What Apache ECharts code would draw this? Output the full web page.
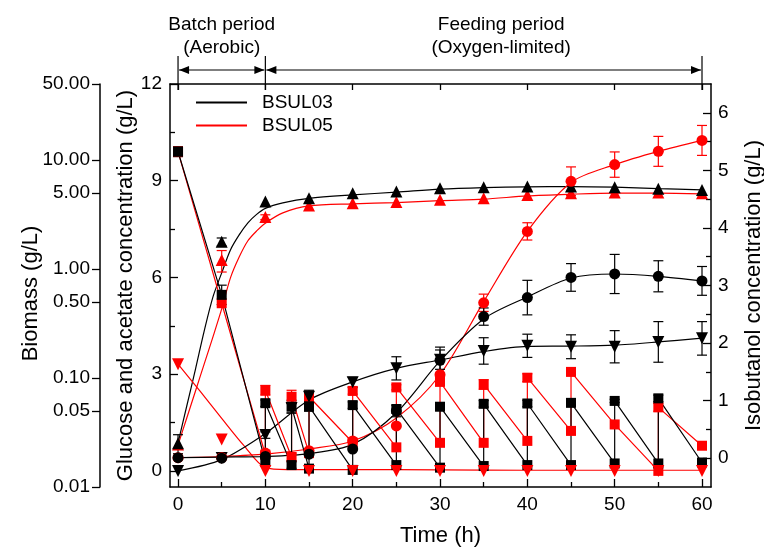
<!DOCTYPE html>
<html><head><meta charset="utf-8">
<script src="https://cdn.jsdelivr.net/npm/echarts@6/dist/echarts.min.js"></script>
<style>html,body{margin:0;padding:0;background:#fff}#c{width:764px;height:552px}</style>
</head><body><div id="c"></div>
<script>
const FONT = '"Liberation Sans", Arial, Helvetica, sans-serif';
const BLACK = '#000000', RED = '#ff0000';

// ---- axis ticks ----
const xMajorTicks = [0, 10, 20, 30, 40, 50, 60];
const xMinorTicks = [5, 15, 25, 35, 45, 55];
const glucoseTicks = [0, 3, 6, 9, 12];
const glucoseMinorTicks = [1.5, 4.5, 7.5, 10.5];
const biomassTicks = [0.01, 0.05, 0.10, 0.50, 1.00, 5.00, 10.00, 50.00];
const isoTicks = [0, 1, 2, 3, 4, 5, 6];
const isoMinorTicks = [0.5, 1.5, 2.5, 3.5, 4.5, 5.5];

// ---- periods (annotation) ----
const periodBounds = [0, 10, 60];
const periodLabels = [['Batch period', '(Aerobic)'], ['Feeding period', '(Oxygen-limited)']];
const periodLabelTimes = [5, 37];

// ---- sampling times ----
const sampleTimes = [0, 5, 10, 15, 20, 25, 30, 35, 40, 45, 50, 55, 60];

// ---- glucose (sawtooth, feeding) ----
const glcTimes03 = [0, 5, 10, 10, 13, 13, 15, 15, 20, 20, 25, 25, 30, 30, 35, 35, 40, 40, 45, 45, 50, 50, 55, 55, 60];
const glc03 = [9.9, 5.46, 0.28, 2.1, 0.18, 1.99, 0.07, 2.0, 0.03, 2.04, 0.18, 1.92, 0.1, 1.99, 0.15, 2.08, 0.18, 2.09, 0.18, 2.11, 0.23, 2.17, 0.23, 2.25, 0.26];
const glcErr03 = [0.15, 0.3, null, 0.1, 0.1, 0.2, null, 0.15, null, 0.1, null, null, null, null, null, 0.1, null, 0.1, null, null, null, 0.05, null, 0.1, null];
const glcTimes05 = [0, 5, 10, 10, 13, 13, 15, 15, 20, 20, 25, 25, 30, 30, 35, 35, 40, 40, 45, 45, 50, 55, 55, 60];
const glc05 = [9.9, 5.2, 0.5, 2.5, 0.43, 2.3, 0.55, 2.3, 0.88, 2.48, 0.73, 2.59, 0.87, 2.76, 0.87, 2.68, 0.93, 2.89, 1.24, 3.07, 1.44, 0.0, 1.97, 0.78];
const glcErr05 = [0.15, null, null, 0.15, 0.12, 0.2, null, 0.1, null, 0.1, null, 0.08, null, null, null, 0.15, null, 0.12, null, null, null, null, 0.12, null];

// ---- acetate ----
const aceTimes03 = [0, 5, 10, 13, 15, 20, 25, 30, 35, 40, 45, 50, 55, 60];
const ace03 = [0.0, 0.4, 1.11, 1.95, 2.3, 2.75, 3.18, 3.45, 3.72, 3.88, 3.85, 3.85, 4.0, 4.11];
const aceErr03 = [null, null, 0.1, 0.15, 0.2, 0.15, 0.36, 0.3, 0.41, 0.36, 0.37, 0.5, 0.63, 0.52];
const ace05 = [3.31, 0.97, 0.0, 0.0, 0.0, 0.0, 0.0, 0.0, 0.0, 0.0, 0.0, 0.0, 0.0];
const aceFitTimes03 = [0, 5, 10, 15, 20, 25, 30, 35, 40, 45, 50, 55, 60];
const aceFit03 = [0.0, 0.35, 1.16, 2.2, 2.76, 3.18, 3.44, 3.7, 3.86, 3.87, 3.9, 4.0, 4.12];
const aceFitTimes05 = [0, 2.5, 5, 7.5, 10, 12.5, 15, 20, 30, 40, 50, 60];
const aceFit05 = [3.31, 2.48, 1.63, 0.8, 0.1, 0.04, 0.04, 0.04, 0.03, 0.02, 0.02, 0.02];

// ---- biomass ----
const bio03 = [0.0252, 1.78, 4.17, 4.48, 4.98, 5.15, 5.53, 5.65, 5.72, 5.72, 5.65, 5.45, 5.33];
const bioErr03 = [0.005, 0.15, null, null, null, null, null, null, null, null, null, null, null];
const bio05 = [0.0245, 1.21, 3.0, 3.83, 4.03, 4.12, 4.32, 4.48, 4.80, 4.98, 5.04, 5.04, 4.98];
const bioErr05 = [null, 0.27, 0.15, null, null, null, null, null, null, null, null, null, null];
const bioFitTimes = [0, 1, 2, 3, 4, 5, 6, 7, 8, 9, 10, 12, 15, 20, 25, 30, 35, 40, 45, 50, 55, 60];
const bioFit03 = [0.0254, 0.0554, 0.121, 0.271, 0.556, 0.923, 1.50, 2.06, 2.66, 3.18, 3.61, 4.05, 4.46, 4.80, 5.08, 5.42, 5.60, 5.69, 5.72, 5.65, 5.48, 5.34];
const bioFit05 = [0.0243, 0.0430, 0.0761, 0.135, 0.239, 0.431, 0.830, 1.29, 1.82, 2.24, 2.64, 3.28, 3.80, 3.97, 4.08, 4.26, 4.38, 4.70, 4.87, 4.98, 4.98, 4.91];

// ---- isobutanol ----
const iso03 = [0.01, 0.0, 0.03, 0.07, 0.16, 0.82, 1.70, 2.46, 2.79, 3.14, 3.2, 3.16, 3.08];
const isoErr03 = [null, null, null, null, null, 0.1, 0.23, 0.15, 0.3, 0.24, 0.34, 0.27, 0.25];
const iso05 = [0.01, 0.01, 0.09, 0.13, 0.30, 0.56, 1.45, 2.70, 3.94, 4.81, 5.10, 5.33, 5.52];
const isoErr05 = [null, null, null, null, null, null, null, 0.15, 0.15, 0.25, 0.22, 0.26, 0.26];
const isoFit03 = [0.01, 0.02, 0.03, 0.08, 0.24, 0.79, 1.69, 2.42, 2.8, 3.13, 3.2, 3.16, 3.08];
const isoFit05 = [0.01, 0.03, 0.07, 0.16, 0.3, 0.7, 1.45, 2.72, 3.94, 4.79, 5.1, 5.33, 5.52];

// ---- helpers ----
const pairs = (ts, vs) => ts.map((t, i) => [t, vs[i]]);
const errData = (ts, vs, es) => {
  const out = [];
  ts.forEach((t, i) => { if (es[i] != null) out.push([t, vs[i] - es[i], vs[i] + es[i]]); });
  return out;
};
const Y_GLC = 0, Y_BIO = 2, Y_ISO = 4;

function errSeries(name, data, yAxisIndex, color) {
  return {
    type: 'custom', name, xAxisIndex: 0, yAxisIndex, z: 3, silent: true,
    encode: { x: 0, y: [1, 2] },
    data,
    renderItem: (params, api) => {
      const x = api.value(0);
      const p1 = api.coord([x, api.value(1)]);
      const p2 = api.coord([x, api.value(2)]);
      const w = 5;
      const st = { stroke: color, lineWidth: 1.2 };
      return {
        type: 'group', children: [
          { type: 'line', shape: { x1: p1[0], y1: p1[1], x2: p2[0], y2: p2[1] }, style: st },
          { type: 'line', shape: { x1: p1[0] - w, y1: p1[1], x2: p1[0] + w, y2: p1[1] }, style: st },
          { type: 'line', shape: { x1: p2[0] - w, y1: p2[1], x2: p2[0] + w, y2: p2[1] }, style: st }
        ]
      };
    }
  };
}
function fitSeries(name, ts, vs, yAxisIndex, color) {
  return {
    type: 'line', name, yAxisIndex, data: pairs(ts, vs), smooth: 0.3,
    showSymbol: false, symbol: 'none', z: 2, silent: true,
    lineStyle: { color, width: 1.2 }
  };
}
function markSeries(name, ts, vs, yAxisIndex, color, symbol, size, rotate) {
  return {
    type: 'scatter', name, yAxisIndex, data: pairs(ts, vs), symbol, symbolSize: size,
    symbolRotate: rotate || 0, z: 5, silent: true,
    itemStyle: { color, opacity: 1 }
  };
}
function sawSeries(name, ts, vs, color) {
  return {
    type: 'line', name, yAxisIndex: Y_GLC, data: pairs(ts, vs), symbol: 'rect', symbolSize: 10,
    showSymbol: true, showAllSymbol: true, z: 4, silent: true,
    lineStyle: { color, width: 1.2 }, itemStyle: { color }
  };
}

const axisLineStyle = { show: true, onZero: false, lineStyle: { color: BLACK, width: 1.5 } };
const noLine = { show: false, onZero: false };
const tickStyle = { color: BLACK, width: 1.3 };
const labelStyle = { color: BLACK, fontSize: 19, fontFamily: FONT };
const nameStyle = { color: BLACK, fontSize: 22, fontFamily: FONT };

const option = {
  animation: false,
  backgroundColor: '#ffffff',
  textStyle: { fontFamily: FONT },
  grid: { left: 170, right: 53, top: 84, bottom: 65, containLabel: false, outerBoundsMode: 'none' },
  legend: {
    data: ['BSUL03', 'BSUL05'], left: 191, top: 88, orient: 'vertical',
    itemWidth: 51, itemHeight: 2, itemGap: 4, icon: 'rect',
    textStyle: { fontSize: 19, color: BLACK, fontFamily: FONT, padding: [0, 0, 0, 10] }
  },
  xAxis: [
    {
      type: 'value', position: 'bottom', min: -0.92, max: 61.03,
      axisLine: axisLineStyle,
      axisTick: { show: true, inside: true, length: 8, lineStyle: tickStyle, customValues: xMajorTicks },
      axisLabel: { ...labelStyle, margin: 8, customValues: xMajorTicks },
      splitLine: { show: false },
      name: 'Time (h)', nameLocation: 'middle', nameGap: 38, nameTextStyle: nameStyle, nameMoveOverlap: false
    },
    {
      type: 'value', position: 'bottom', min: -0.92, max: 61.03,
      axisLine: noLine,
      axisTick: { show: true, inside: true, length: 5, lineStyle: tickStyle, customValues: xMinorTicks },
      axisLabel: { show: false }, splitLine: { show: false }
    },
    {
      type: 'value', position: 'top', min: -0.92, max: 61.03,
      axisLine: axisLineStyle,
      axisTick: { show: true, inside: true, length: 6, lineStyle: tickStyle, customValues: xMajorTicks },
      axisLabel: { show: false }, splitLine: { show: false }
    }
  ],
  yAxis: [
    {
      type: 'value', position: 'left', min: -0.5, max: 12,
      axisLine: axisLineStyle,
      axisTick: { show: true, inside: true, length: 8, lineStyle: tickStyle, customValues: glucoseTicks },
      axisLabel: { ...labelStyle, margin: 8, customValues: glucoseTicks },
      splitLine: { show: false },
      name: 'Glucose and acetate concentration (g/L)', nameLocation: 'middle', nameRotate: 90,
      nameGap: 33, nameTextStyle: nameStyle, nameMoveOverlap: false
    },
    {
      type: 'value', position: 'left', min: -0.5, max: 12,
      axisLine: noLine,
      axisTick: { show: true, inside: true, length: 5, lineStyle: tickStyle, customValues: glucoseMinorTicks },
      axisLabel: { show: false }, splitLine: { show: false }
    },
    {
      type: 'log', logBase: 10, position: 'left', offset: 70,
      min: biomassTicks[0], max: biomassTicks[biomassTicks.length - 1],
      show: false, axisLine: noLine, splitLine: { show: false }
    },
    {
      type: 'value', position: 'left', offset: 70,
      min: Math.log10(biomassTicks[0]), max: Math.log10(biomassTicks[biomassTicks.length - 1]),
      axisLine: axisLineStyle,
      axisTick: { show: true, inside: false, length: 8, lineStyle: tickStyle, customValues: biomassTicks.map(v => Math.log10(v)) },
      axisLabel: {
        ...labelStyle, margin: 10, customValues: biomassTicks.map(v => Math.log10(v)),
        formatter: v => Math.pow(10, v).toFixed(2)
      },
      splitLine: { show: false },
      name: 'Biomass (g/L)', nameLocation: 'middle', nameRotate: 90, nameGap: 58,
      nameTextStyle: { ...nameStyle, padding: [0, 16, 0, 0] }, nameMoveOverlap: false
    },
    {
      type: 'value', position: 'right', min: -0.5, max: 6.5,
      axisLine: axisLineStyle,
      axisTick: { show: true, inside: true, length: 8, lineStyle: tickStyle, customValues: isoTicks },
      axisLabel: { ...labelStyle, margin: 7, customValues: isoTicks },
      splitLine: { show: false },
      name: 'Isobutanol concentration (g/L)', nameLocation: 'middle', nameRotate: 90,
      nameGap: 32, nameTextStyle: nameStyle, nameMoveOverlap: false
    },
    {
      type: 'value', position: 'right', min: -0.5, max: 6.5,
      axisLine: noLine,
      axisTick: { show: true, inside: true, length: 5, lineStyle: tickStyle, customValues: isoMinorTicks },
      axisLabel: { show: false }, splitLine: { show: false }
    }
  ],
  series: [
    { name: 'BSUL03', type: 'line', data: [], yAxisIndex: Y_GLC, lineStyle: { color: BLACK }, itemStyle: { color: BLACK } },
    { name: 'BSUL05', type: 'line', data: [], yAxisIndex: Y_GLC, lineStyle: { color: RED }, itemStyle: { color: RED } },
    // fitted curves
    fitSeries('bioFit05', bioFitTimes, bioFit05, Y_BIO, RED),
    fitSeries('bioFit03', bioFitTimes, bioFit03, Y_BIO, BLACK),
    fitSeries('aceFit05', aceFitTimes05, aceFit05, Y_GLC, RED),
    fitSeries('aceFit03', aceFitTimes03, aceFit03, Y_GLC, BLACK),
    fitSeries('isoFit05', sampleTimes, isoFit05, Y_ISO, RED),
    fitSeries('isoFit03', sampleTimes, isoFit03, Y_ISO, BLACK),
    // error bars
    errSeries('glcErr05', errData(glcTimes05, glc05, glcErr05), Y_GLC, RED),
    errSeries('glcErr03', errData(glcTimes03, glc03, glcErr03), Y_GLC, BLACK),
    errSeries('bioErr05', errData(sampleTimes, bio05, bioErr05), Y_BIO, RED),
    errSeries('bioErr03', errData(sampleTimes, bio03, bioErr03), Y_BIO, BLACK),
    errSeries('aceErr03', errData(aceTimes03, ace03, aceErr03), Y_GLC, BLACK),
    errSeries('isoErr05', errData(sampleTimes, iso05, isoErr05), Y_ISO, RED),
    errSeries('isoErr03', errData(sampleTimes, iso03, isoErr03), Y_ISO, BLACK),
    // glucose sawtooth
    sawSeries('glc05', glcTimes05, glc05, RED),
    sawSeries('glc03', glcTimes03, glc03, BLACK),
    // markers
    markSeries('ace05', sampleTimes, ace05, Y_GLC, RED, 'triangle', 12, 180),
    markSeries('ace03', aceTimes03, ace03, Y_GLC, BLACK, 'triangle', 12, 180),
    markSeries('bio05', sampleTimes, bio05, Y_BIO, RED, 'triangle', 12, 0),
    markSeries('bio03', sampleTimes, bio03, Y_BIO, BLACK, 'triangle', 12, 0),
    markSeries('iso05', sampleTimes, iso05, Y_ISO, RED, 'circle', 11, 0),
    markSeries('iso03', sampleTimes, iso03, Y_ISO, BLACK, 'circle', 11, 0)
  ]
};

const chart = echarts.init(document.getElementById('c'), null, { renderer: 'canvas' });
chart.setOption(option);

// period annotation above the plot
const xb = periodBounds.map(t => chart.convertToPixel({ xAxisIndex: 0 }, t));
const lineY = 70, topY = 56, botY = 90;
const st = { stroke: BLACK, lineWidth: 1.2 };
const g = [];
xb.forEach(x => g.push({ type: 'line', shape: { x1: x, y1: topY, x2: x, y2: botY }, style: st }));
for (let i = 0; i < xb.length - 1; i++) {
  const a = xb[i] + 1, b = xb[i + 1] - 1;
  g.push({ type: 'line', shape: { x1: a, y1: lineY, x2: b, y2: lineY }, style: st });
  g.push({ type: 'polygon', shape: { points: [[a, lineY], [a + 10, lineY - 4], [a + 10, lineY + 4]] }, style: { fill: BLACK } });
  g.push({ type: 'polygon', shape: { points: [[b, lineY], [b - 10, lineY - 4], [b - 10, lineY + 4]] }, style: { fill: BLACK } });
  const cx = chart.convertToPixel({ xAxisIndex: 0 }, periodLabelTimes[i]);
  periodLabels[i].forEach((txt, k) => g.push({
    type: 'text', x: cx, y: 25 + k * 23,
    style: { text: txt, fill: BLACK, font: '19px ' + FONT, align: 'center', verticalAlign: 'middle' }
  }));
}
chart.setOption({ graphic: g });
</script></body></html>
